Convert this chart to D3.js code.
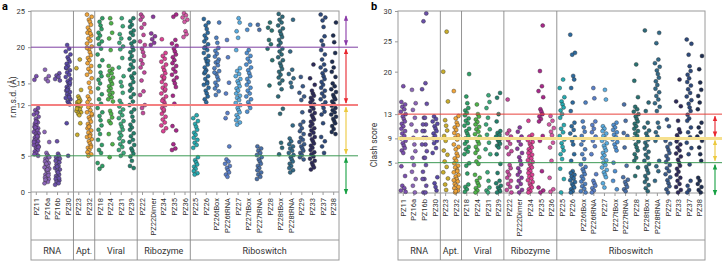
<!DOCTYPE html>
<html>
<head>
<meta charset="utf-8">
<script src="https://cdn.jsdelivr.net/npm/d3@7"></script>
<style>
  body { margin: 0; background: #fff; }
  text { font-family: Roboto, "Liberation Sans", sans-serif; fill: #333; }
</style>
</head>
<body>
<svg id="chart" width="722" height="261"></svg>
<script>
// categories (shared by both panels)
const cats = ["PZ11", "PZ16a", "PZ16b", "PZ30", "PZ23", "PZ32", "PZ18", "PZ24", "PZ31", "PZ39",
  "PZ22", "PZ22Dimer", "PZ34", "PZ35", "PZ36", "PZ25", "PZ26", "PZ26tBox", "PZ26tRNA", "PZ27",
  "PZ27tBox", "PZ27tRNA", "PZ28", "PZ28tBox", "PZ28tRNA", "PZ29", "PZ33", "PZ37", "PZ38"];
const groupNames = ["RNA", "Apt.", "Viral", "Ribozyme", "Riboswitch"];
const groupSizes = [4, 2, 4, 5, 14];
const catColors = ["#7a4fae", "#8c66b8", "#6a50a8", "#5a4aa6", "#c9ad2b", "#f0a53a", "#2e9e66", "#4fb24a",
  "#3aa87a", "#23806c", "#c2489a", "#8a3a9e", "#dc4294", "#a8288a", "#d458a4", "#26aab0", "#2d6a9e",
  "#4f7fc0", "#5a7fc8", "#5aace0", "#4f8fd0", "#4a70a8", "#2a7272", "#2e6a7a", "#336a88", "#3a5a8a",
  "#2e2b5c", "#2e4a7c", "#1e2e52"];

// panel a: r.m.s.d. (Å) per category
const rmsd = [
  [16.0, 15.5, 11.6, 11.3, 11.0, 10.7, 10.4, 10.1, 9.8, 9.6, 9.4, 9.2, 9.0, 8.8, 8.6, 8.5, 8.3, 8.1, 8.0, 7.8, 7.6, 7.5, 7.3, 7.1, 7.0, 6.8, 6.6, 6.5, 6.3, 6.1, 6.0, 5.8, 5.6, 5.4, 5.2, 5.0, 8.9, 7.7, 6.9, 6.2, 9.7, 10.9],
  [16.9, 16.0, 15.6, 15.3, 8.3, 6.9, 5.4, 5.1, 4.9, 4.6, 4.4, 4.2, 4.0, 3.8, 3.6, 3.4, 3.2, 3.0, 2.8, 2.6, 2.4, 2.2, 2.0, 1.8, 1.6, 1.4, 1.2, 4.8, 3.9, 3.1, 2.3, 1.7],
  [16.4, 16.1, 15.9, 15.6, 15.4, 7.0, 5.3, 5.0, 4.8, 4.5, 4.3, 4.1, 3.8, 3.6, 3.3, 3.1, 2.9, 2.6, 2.4, 2.2, 2.0, 1.8, 1.6, 1.4, 1.2, 1.0, 4.6, 3.5, 2.7, 1.9],
  [20.3, 19.8, 19.4, 19.0, 18.6, 18.3, 18.0, 17.7, 17.4, 17.1, 16.8, 16.5, 16.2, 15.9, 15.6, 15.3, 15.0, 14.8, 14.5, 14.3, 14.0, 13.8, 13.5, 13.3, 13.0, 12.8, 12.5, 12.3, 12.1, 9.5, 5.0, 17.2, 15.1, 14.1, 13.1],
  [18.3, 17.1, 14.1, 13.2, 12.9, 12.6, 12.4, 12.2, 12.0, 11.8, 11.6, 11.4, 11.2, 11.0, 10.8, 10.6, 9.5, 7.9, 12.5, 11.5],
  [24.5, 24.2, 23.8, 23.5, 23.1, 22.7, 22.3, 22.0, 21.6, 21.2, 20.9, 20.5, 20.1, 19.7, 19.3, 18.9, 18.5, 18.2, 17.8, 17.4, 17.0, 16.6, 16.2, 15.7, 15.1, 14.4, 13.8, 13.2, 12.8, 12.4, 12.0, 11.7, 11.3, 11.0, 10.6, 10.3, 10.0, 9.7, 9.4, 9.1, 8.8, 8.5, 8.2, 7.9, 7.6, 7.3, 7.0, 6.7, 6.4, 6.1, 5.8, 5.5, 5.2, 5.0, 21.9, 19.9, 10.8, 9.0, 7.7, 6.2],
  [24.0, 23.5, 23.0, 22.5, 22.0, 21.6, 21.2, 20.8, 20.4, 19.8, 19.0, 18.2, 17.4, 16.5, 16.0, 15.5, 15.0, 14.3, 13.5, 12.8, 12.2, 11.6, 11.0, 10.5, 9.9, 9.2, 8.6, 8.0, 7.2, 6.5, 5.8, 5.4, 4.0, 3.6, 3.2],
  [24.0, 23.3, 22.0, 21.2, 19.6, 17.4, 17.0, 16.7, 16.4, 16.1, 15.8, 15.5, 15.2, 14.9, 14.6, 14.3, 14.0, 13.7, 13.4, 13.1, 12.8, 12.5, 11.2, 10.8, 10.3, 9.8, 9.5, 8.0, 6.6, 4.8],
  [24.0, 22.9, 21.8, 21.2, 20.6, 20.1, 19.7, 18.5, 17.2, 16.0, 15.2, 14.6, 13.7, 12.6, 12.2, 11.8, 11.4, 11.0, 10.6, 10.2, 9.8, 9.4, 9.0, 8.6, 8.2, 7.8, 7.4, 7.0, 6.6, 6.2, 5.8, 5.4, 5.0],
  [24.0, 23.6, 23.1, 22.8, 22.3, 22.0, 21.7, 21.2, 20.8, 20.5, 20.0, 19.6, 19.3, 18.8, 18.4, 18.1, 17.6, 17.2, 16.9, 16.4, 16.0, 15.7, 15.2, 14.8, 14.3, 14.0, 13.5, 13.1, 12.5, 12.0, 11.4, 11.0, 10.4, 9.8, 9.3, 8.9, 8.6, 8.1, 7.7, 7.2, 6.9, 6.5, 6.0, 5.7, 5.3, 4.9, 4.3, 3.6, 3.3],
  [24.5, 24.2, 23.8, 23.2, 22.7, 21.7, 20.8, 20.3, 19.8, 19.3, 18.8, 18.2, 17.7, 17.2, 16.5, 15.4, 13.9, 13.4, 12.0, 11.6, 10.9],
  [24.2, 21.9, 21.5, 21.1, 20.6, 20.3],
  [21.1, 19.2, 18.8, 18.4, 18.0, 17.6, 17.2, 16.8, 16.4, 16.0, 15.6, 15.2, 14.8, 14.4, 14.0, 13.6, 13.2, 12.8, 12.4, 12.0, 11.6, 11.2, 10.8, 10.4, 10.0, 9.6, 9.2, 8.8, 8.4, 15.8, 14.2, 12.6, 11.4],
  [24.5, 24.2, 21.0, 20.5, 20.2, 19.8, 19.4, 19.0, 18.6, 18.2, 17.8, 17.4, 17.0, 16.6, 16.2, 15.8, 15.4, 15.0, 14.5, 13.3, 12.2, 9.1, 8.5, 6.6, 6.0, 5.8],
  [24.7, 24.4, 24.1, 23.8, 23.5, 22.2, 21.8, 21.4],
  [10.6, 10.2, 9.8, 9.4, 9.0, 8.6, 8.2, 7.9, 7.5, 7.2, 6.8, 6.5, 6.1, 4.8, 4.4, 4.1, 3.8, 3.5, 3.2, 2.9, 2.6, 2.4],
  [23.9, 23.4, 23.0, 22.5, 22.0, 21.6, 21.2, 20.8, 20.4, 20.0, 19.6, 19.2, 18.8, 18.4, 18.0, 17.6, 17.2, 16.8, 16.4, 16.0, 15.6, 15.2, 14.8, 14.4, 14.0, 13.6, 13.2, 12.8, 12.4, 19.9, 18.1, 16.6, 15.0],
  [23.4, 21.3, 20.6, 19.9, 19.5, 19.1, 18.7, 18.3, 17.9, 17.5, 17.1, 16.7, 16.3, 15.9, 15.5, 15.1, 14.7, 14.3, 13.9, 13.4, 18.0, 16.5],
  [21.0, 18.6, 15.1, 13.6, 10.9, 10.2, 6.3, 4.5, 4.2, 3.9, 3.6, 3.3, 3.0, 2.7, 2.4, 2.1],
  [24.0, 23.4, 22.2, 21.3, 19.6, 17.1, 16.7, 16.3, 16.0, 15.6, 15.3, 15.0, 14.6, 14.3, 14.0, 13.6, 13.3, 13.0, 12.7, 12.3, 12.0, 11.6, 11.3, 11.0, 10.6, 10.3, 9.9, 9.6, 9.3],
  [23.1, 22.4, 19.6, 19.2, 18.8, 18.4, 18.0, 17.6, 17.2, 16.8, 16.4, 16.0, 15.6, 15.2, 14.8, 14.4, 14.0, 13.6, 13.2, 12.8, 12.4, 12.0, 11.6, 11.1],
  [23.1, 22.4, 6.3, 6.0, 5.7, 5.4, 5.1, 4.8, 4.5, 4.2, 3.9, 3.6, 3.3, 3.0, 2.7, 2.4, 2.1, 1.8],
  [23.4, 22.7, 22.3, 21.0, 20.4, 19.8, 18.2, 14.7],
  [24.6, 24.2, 23.8, 23.4, 23.0, 22.6, 22.2, 21.8, 21.4, 21.0, 20.6, 20.2, 19.8, 19.4, 19.0, 18.6, 18.2, 17.8, 17.4, 17.0, 16.6, 16.2, 15.8, 15.4, 15.0, 14.2, 13.2, 11.5, 10.8, 6.8, 6.1, 5.2],
  [23.8, 19.4, 16.9, 16.3, 15.7, 15.1, 14.5, 9.2, 7.4, 7.0, 6.6, 6.3, 6.0, 5.7, 5.4, 5.1, 4.8, 4.5, 4.2, 3.9, 3.6, 3.3, 3.0, 2.7],
  [15.9, 14.6, 13.7, 13.2, 12.7, 11.0, 9.7, 9.3, 8.8, 8.4, 8.0, 7.5, 7.2, 6.9, 6.6, 6.3, 6.0, 5.7, 5.4, 5.1, 4.8, 4.5],
  [17.6, 15.7, 14.8, 14.0, 13.6, 13.3, 13.0, 12.7, 12.4, 12.1, 11.8, 11.5, 11.2, 10.9, 10.6, 10.3, 10.0, 9.7, 9.4, 9.1, 8.8, 8.5, 8.2, 7.9, 7.6, 7.3, 7.0, 6.7, 6.4, 6.1, 5.8, 5.5, 5.2, 4.9, 4.6, 4.3, 4.0, 3.7, 3.4, 3.1],
  [24.5, 24.1, 23.7, 22.8, 21.5, 20.9, 20.3, 19.6, 19.0, 18.3, 17.6, 17.2, 16.8, 16.4, 16.0, 15.6, 15.2, 14.8, 14.4, 14.0, 13.6, 13.2, 12.8, 12.4, 12.0, 11.6, 11.1, 10.7, 9.5, 7.6, 7.0, 6.3, 5.4],
  [23.4, 21.6, 20.7, 19.2, 18.0, 17.2, 16.6, 15.9, 15.0, 14.6, 14.2, 13.8, 13.4, 13.1, 12.8, 12.5, 12.2, 11.9, 11.6, 11.3, 11.0, 10.7, 10.4, 10.1, 9.8, 9.5, 9.1, 8.7, 8.3, 8.0]
];

// panel b: clash score per category
const clash = [
  [17.6, 15.0, 14.6, 14.2, 13.8, 13.4, 13.0, 12.6, 12.2, 11.8, 11.4, 11.0, 10.6, 10.2, 9.8, 9.4, 9.0, 8.6, 8.2, 7.8, 7.4, 7.0, 6.6, 4.4, 2.8, 1.2, 0.8, 0.4, 0.2],
  [17.0, 14.8, 13.7, 12.4, 11.3, 10.2, 9.1, 8.0, 6.9, 5.8, 4.6, 3.5, 2.3, 1.2, 0.1],
  [29.6, 28.3, 18.1, 17.1, 14.7, 12.4, 12.4, 11.3, 11.3, 10.2, 10.2, 9.1, 9.1, 8.0, 8.0, 6.9, 5.8, 5.8, 4.6, 3.5, 2.3, 2.3, 1.2, 0.1, 0.1],
  [12.6, 12.2, 11.8, 11.4, 11.0, 10.6, 10.2, 9.8, 9.4, 9.0, 8.6, 8.2, 7.4, 6.6, 2.6, 1.6, 1.0, 0.4],
  [26.6, 20.0, 15.1, 12.0, 11.1, 10.3, 9.4, 8.6, 7.0, 6.3, 5.2, 4.3, 3.4, 2.4, 1.4, 0.5],
  [16.8, 12.7, 12.3, 11.6, 11.2, 10.8, 10.4, 9.9, 9.5, 9.1, 8.8, 8.0, 7.6, 7.2, 6.5, 6.1, 5.7, 5.3, 4.9, 4.5, 4.2, 3.8, 3.4, 3.0, 2.7, 2.3, 1.9, 1.5, 1.2, 0.8, 0.4, 0.1, 3.6, 2.1, 1.0, 0.3],
  [19.6, 15.9, 14.8, 14.0, 13.6, 13.2, 12.8, 12.3, 11.9, 11.5, 11.1, 10.6, 10.2, 9.8, 9.4, 9.0, 8.5, 8.1, 7.6, 7.2, 6.8, 6.4, 4.9, 4.5, 3.2, 1.4, 1.0, 0.6, 0.2],
  [14.6, 13.0, 12.6, 12.1, 11.7, 11.3, 10.9, 10.5, 10.1, 9.7, 9.3, 8.9, 8.5, 8.1, 7.6, 7.1, 6.6, 5.9, 5.2, 4.8, 3.0, 2.5, 2.0, 1.6, 1.2, 0.8, 0.4, 0.1],
  [16.1, 15.0, 14.0, 12.4, 11.3, 10.5, 9.6, 8.3, 7.2, 6.4, 3.4, 2.0, 0.9, 0.4, 0.1],
  [16.5, 15.7, 13.0, 11.8, 10.2, 9.9, 9.6, 9.3, 9.0, 8.7, 8.4, 8.1, 7.8, 7.5, 6.4, 4.8, 3.3, 2.0, 1.6, 1.2, 0.9, 0.6, 0.3, 0.1],
  [15.4, 10.3, 9.8, 9.3, 8.7, 8.1, 7.5, 6.9, 6.4, 4.6, 4.1, 3.5, 3.0, 2.5, 2.0, 1.5, 1.0, 0.5, 0.1],
  [10.8, 10.1, 9.3, 8.6, 8.0, 7.3, 6.6, 5.9, 5.3, 4.7, 4.1, 3.5, 3.0, 2.5, 2.0, 1.5, 1.0, 0.5, 0.1],
  [11.9, 9.6, 9.3, 9.0, 8.7, 8.4, 8.1, 7.8, 7.5, 7.2, 6.9, 6.6, 6.3, 6.0, 5.7, 5.4, 5.1, 4.8, 4.5, 4.2, 3.9, 3.6, 3.3, 3.0, 2.7, 2.4, 2.1, 1.8, 1.5, 1.2, 0.9, 0.6, 0.3, 0.1],
  [27.6, 20.1, 17.6, 16.8, 15.8, 13.8, 13.4, 13.0, 12.6, 12.2, 11.8, 9.4, 8.6, 3.6, 0.9, 0.4, 0.1],
  [12.7, 11.9, 11.3, 10.7, 10.1, 9.5, 8.3, 7.5, 5.3, 2.5, 0.6, 0.2],
  [18.7, 17.3, 15.8, 15.1, 14.6, 14.1, 13.6, 13.0, 12.4, 11.2, 10.6, 10.0, 9.4, 8.8, 8.2, 7.6, 7.0, 6.4, 5.6, 4.0, 2.3, 0.1],
  [26.1, 23.1, 22.8, 19.3, 18.7, 17.3, 14.9, 13.5, 11.6, 11.0, 10.4, 9.8, 9.2, 8.6, 8.0, 6.4, 5.3, 3.6, 3.3, 3.0, 2.7, 2.4, 2.1, 1.8, 1.5, 1.2, 0.9, 0.6, 0.3, 0.1],
  [14.9, 11.8, 10.8, 10.1, 9.4, 8.7, 8.0, 7.2, 6.4, 5.6, 4.7, 4.3, 3.9, 3.5, 3.1, 2.7, 2.3, 1.9, 1.5, 1.1, 0.7, 0.3, 0.1],
  [17.3, 15.6, 11.8, 11.2, 10.6, 10.0, 9.3, 8.6, 7.7, 6.4, 3.1, 2.0, 1.6, 1.2, 0.8, 0.4, 0.1],
  [17.0, 15.4, 11.0, 10.6, 10.2, 9.8, 9.4, 9.0, 8.6, 8.2, 7.8, 7.4, 7.0, 6.6, 6.2, 5.8, 5.4, 5.0, 4.6, 4.2, 3.8, 3.4, 3.0, 2.6, 1.6, 0.9],
  [11.6, 11.2, 10.8, 10.4, 10.0, 9.6, 9.2, 8.8, 8.4, 8.0, 7.5, 7.0, 5.0, 3.6, 2.0, 0.6],
  [14.6, 11.9, 9.9, 9.4, 7.5, 4.5, 2.6, 2.2, 1.8, 1.4, 1.0, 0.6, 0.3],
  [21.2, 18.5, 15.8, 14.2, 13.8, 13.4, 13.0, 12.6, 12.2, 11.8, 11.4, 11.0, 10.6, 10.2, 9.8, 9.4, 9.0, 8.5, 8.0, 7.5, 7.0, 6.4, 5.8, 5.3, 4.2, 2.8],
  [26.8, 14.9, 13.5, 11.6, 10.8, 10.3, 9.8, 9.3, 8.8, 8.3, 7.8, 7.3, 6.8, 6.3, 5.8, 5.3, 4.8, 4.3, 3.8, 3.3, 2.8, 2.3, 1.8, 1.3, 0.8, 0.3],
  [26.4, 24.7, 22.0, 21.4, 20.8, 20.2, 19.6, 19.0, 18.4, 17.8, 17.2, 16.6, 16.0, 15.4, 14.8, 14.2, 13.5, 11.6, 10.8, 10.0, 9.3, 8.6, 5.3, 4.4, 3.6, 2.0],
  [12.1, 11.0, 8.6, 8.1, 7.6, 7.1, 6.6, 6.1, 5.6, 5.1, 4.6, 4.1, 3.6, 3.1, 2.6, 2.1, 1.6, 1.1, 0.6, 0.1],
  [18.7, 15.1, 14.3, 11.9, 10.5, 10.0, 9.5, 9.0, 8.5, 8.0, 7.5, 7.0, 6.5, 6.0, 5.5, 5.0, 4.5, 4.0, 3.5, 3.0, 2.5, 2.0, 1.5, 1.0, 0.5, 0.1],
  [25.3, 24.6, 22.8, 20.9, 20.1, 19.5, 18.9, 18.3, 17.7, 17.1, 16.5, 15.9, 15.3, 14.7, 14.1, 13.5, 12.9, 12.3, 11.9, 10.8, 10.0, 9.2, 8.3, 7.4, 6.4, 4.7, 2.0, 1.2, 0.5, 0.1],
  [22.6, 20.4, 18.2, 17.0, 16.0, 14.9, 13.8, 11.6, 10.8, 10.0, 9.3, 8.6, 7.5, 6.4, 5.3, 2.5, 2.0, 1.5, 1.0, 0.5, 0.1]
];

// y ticks and threshold lines
const rmsdTicks = [0, 5, 12, 15, 20, 25];
const clashTicks = [5, 9, 13, 20, 25, 30];
const rmsdLines = [20, 12, 5];
const rmsdLineColors = ["#7d3fa2", "#f47f80", "#3d9a55"];
const clashLines = [13, 9, 5];
const clashLineColors = ["#e8423c", "#f6e08e", "#3d9a55"];
// arrows: [from, to] in data units
const rmsdArrows = [[24.6, 20], [20, 12], [12, 5], [5, 0]];
const rmsdArrowColors = ["#8a3aa8", "#e8262e", "#ecc93e", "#17a043"];
const clashArrows = [[13, 9], [9, 5], [5, 0]];
const clashArrowColors = ["#e8262e", "#ecc93e", "#17a043"];

const svg = d3.select("#chart");
// horizontal spread of points inside a column
const jit = [0, -1.9, 1.8, -1.0, 1.0, -2.4, 2.3, -0.5, 0.5, 1.5, -1.5];

svg.append("defs").selectAll("marker")
  .data(d3.union(rmsdArrowColors, clashArrowColors))
  .join("marker")
  .attr("id", (d) => "ah" + d.slice(1))
  .attr("viewBox", "0 0 10 10")
  .attr("refX", 9).attr("refY", 5)
  .attr("markerWidth", 5).attr("markerHeight", 5)
  .attr("orient", "auto-start-reverse")
  .append("path").attr("d", "M0,1L10,5L0,9z").attr("fill", (d) => d);

function drawPanel(p) {
  const top = 11, bottom = 260;
  const x = d3.scaleBand().domain(cats).range([p.left, p.right]).padding(0);
  const y = d3.scaleLinear().domain([0, p.max]).range([p.base, top]);
  const g = svg.append("g");

  // panel letter
  svg.append("text").attr("x", p.letterX).attr("y", 10)
    .attr("font-size", "11px").attr("font-weight", "bold").style("fill", "#000")
    .text(p.letter);

  // frame
  g.append("rect").attr("x", p.left).attr("y", top)
    .attr("width", p.right - p.left).attr("height", bottom - top)
    .attr("fill", "none").attr("stroke", "#9a9a9a").attr("stroke-width", 1);
  g.append("line").attr("x1", p.left).attr("x2", p.right).attr("y1", 240).attr("y2", 240)
    .attr("stroke", "#9a9a9a");

  // group separators + labels
  let start = 0;
  groupSizes.forEach((n, i) => {
    const x0 = x(cats[start]);
    const x1 = x(cats[start + n - 1]) + x.bandwidth();
    if (i > 0) {
      g.append("line").attr("x1", x0).attr("x2", x0).attr("y1", top).attr("y2", bottom)
        .attr("stroke", "#888").attr("stroke-width", 0.9);
    }
    g.append("text").attr("x", (x0 + x1) / 2).attr("y", 254)
      .attr("text-anchor", "middle").attr("font-size", "9px").text(groupNames[i]);
    start += n;
  });

  // x axis with ticks at each category
  const xAxis = g.append("g").attr("transform", "translate(0," + p.base + ")")
    .call(d3.axisBottom(x).tickSize(3).tickFormat(""));
  xAxis.select(".domain").attr("stroke", "#9a9a9a").attr("d", "M" + p.left + ",0H" + p.right);
  xAxis.selectAll(".tick line").attr("stroke", "#9a9a9a");

  g.selectAll(".catlab").data(cats).join("text")
    .attr("class", "catlab")
    .attr("transform", (d) => "translate(" + (x(d) + x.bandwidth() / 2 + 2.6) + "," + (p.base + 6) + ") rotate(-90)")
    .attr("text-anchor", "end").attr("font-size", "7.5px")
    .text((d) => d);

  // y axis
  const yAxis = g.append("g").attr("transform", "translate(" + p.left + ",0)")
    .call(d3.axisLeft(y).tickValues(p.ticks).tickSize(3).tickPadding(3));
  yAxis.select(".domain").remove();
  yAxis.selectAll(".tick line").attr("stroke", "#9a9a9a");
  yAxis.selectAll(".tick text").attr("font-size", "7.5px").style("fill", "#333")
    .attr("font-family", "Roboto, 'Liberation Sans', sans-serif");

  svg.append("text")
    .attr("transform", "translate(" + p.titleX + "," + p.titleY + ") rotate(-90)")
    .attr("text-anchor", "middle").attr("font-size", "8.5px").text(p.title);

  // points
  p.values.forEach((vals, ci) => {
    const cx = x(cats[ci]) + x.bandwidth() / 2;
    g.append("g").selectAll("circle").data(vals).join("circle")
      .attr("cx", (d, i) => cx + jit[(i + ci) % jit.length])
      .attr("cy", (d) => y(d))
      .attr("r", 2)
      .attr("fill", catColors[ci])
      .attr("stroke", "#2a2a2a").attr("stroke-width", 0.4);
  });

  // threshold lines
  g.selectAll(".thr").data(p.lines).join("line")
    .attr("x1", p.left).attr("x2", p.lineEnd)
    .attr("y1", (d) => y(d)).attr("y2", (d) => y(d))
    .attr("stroke", (d, i) => p.lineColors[i])
    .attr("stroke-width", (d, i) => p.lineWidths[i]);

  // range arrows
  g.selectAll(".arr").data(p.arrows).join("line")
    .attr("x1", p.arrowX).attr("x2", p.arrowX)
    .attr("y1", (d) => y(d[0]) + 2).attr("y2", (d) => y(d[1]) - 2 + (d[1] === 0 ? 4 : 0))
    .attr("stroke", (d, i) => p.arrowColors[i]).attr("stroke-width", 1.1)
    .attr("marker-start", (d, i) => "url(#ah" + p.arrowColors[i].slice(1) + ")")
    .attr("marker-end", (d, i) => "url(#ah" + p.arrowColors[i].slice(1) + ")");
}

drawPanel({
  letter: "a", letterX: 2, left: 31, right: 339, base: 192, max: 25,
  ticks: rmsdTicks, title: "r.m.s.d. (Å)", titleX: 16, titleY: 97,
  values: rmsd, lines: rmsdLines, lineColors: rmsdLineColors, lineWidths: [1, 2, 1],
  lineEnd: 358, arrows: rmsdArrows, arrowColors: rmsdArrowColors, arrowX: 346
});

drawPanel({
  letter: "b", letterX: 371, left: 398, right: 705, base: 193, max: 30,
  ticks: clashTicks, title: "Clash score", titleX: 377, titleY: 145,
  values: clash, lines: clashLines, lineColors: clashLineColors, lineWidths: [1, 3, 1],
  lineEnd: 722, arrows: clashArrows, arrowColors: clashArrowColors, arrowX: 715
});
</script>
</body>
</html>
